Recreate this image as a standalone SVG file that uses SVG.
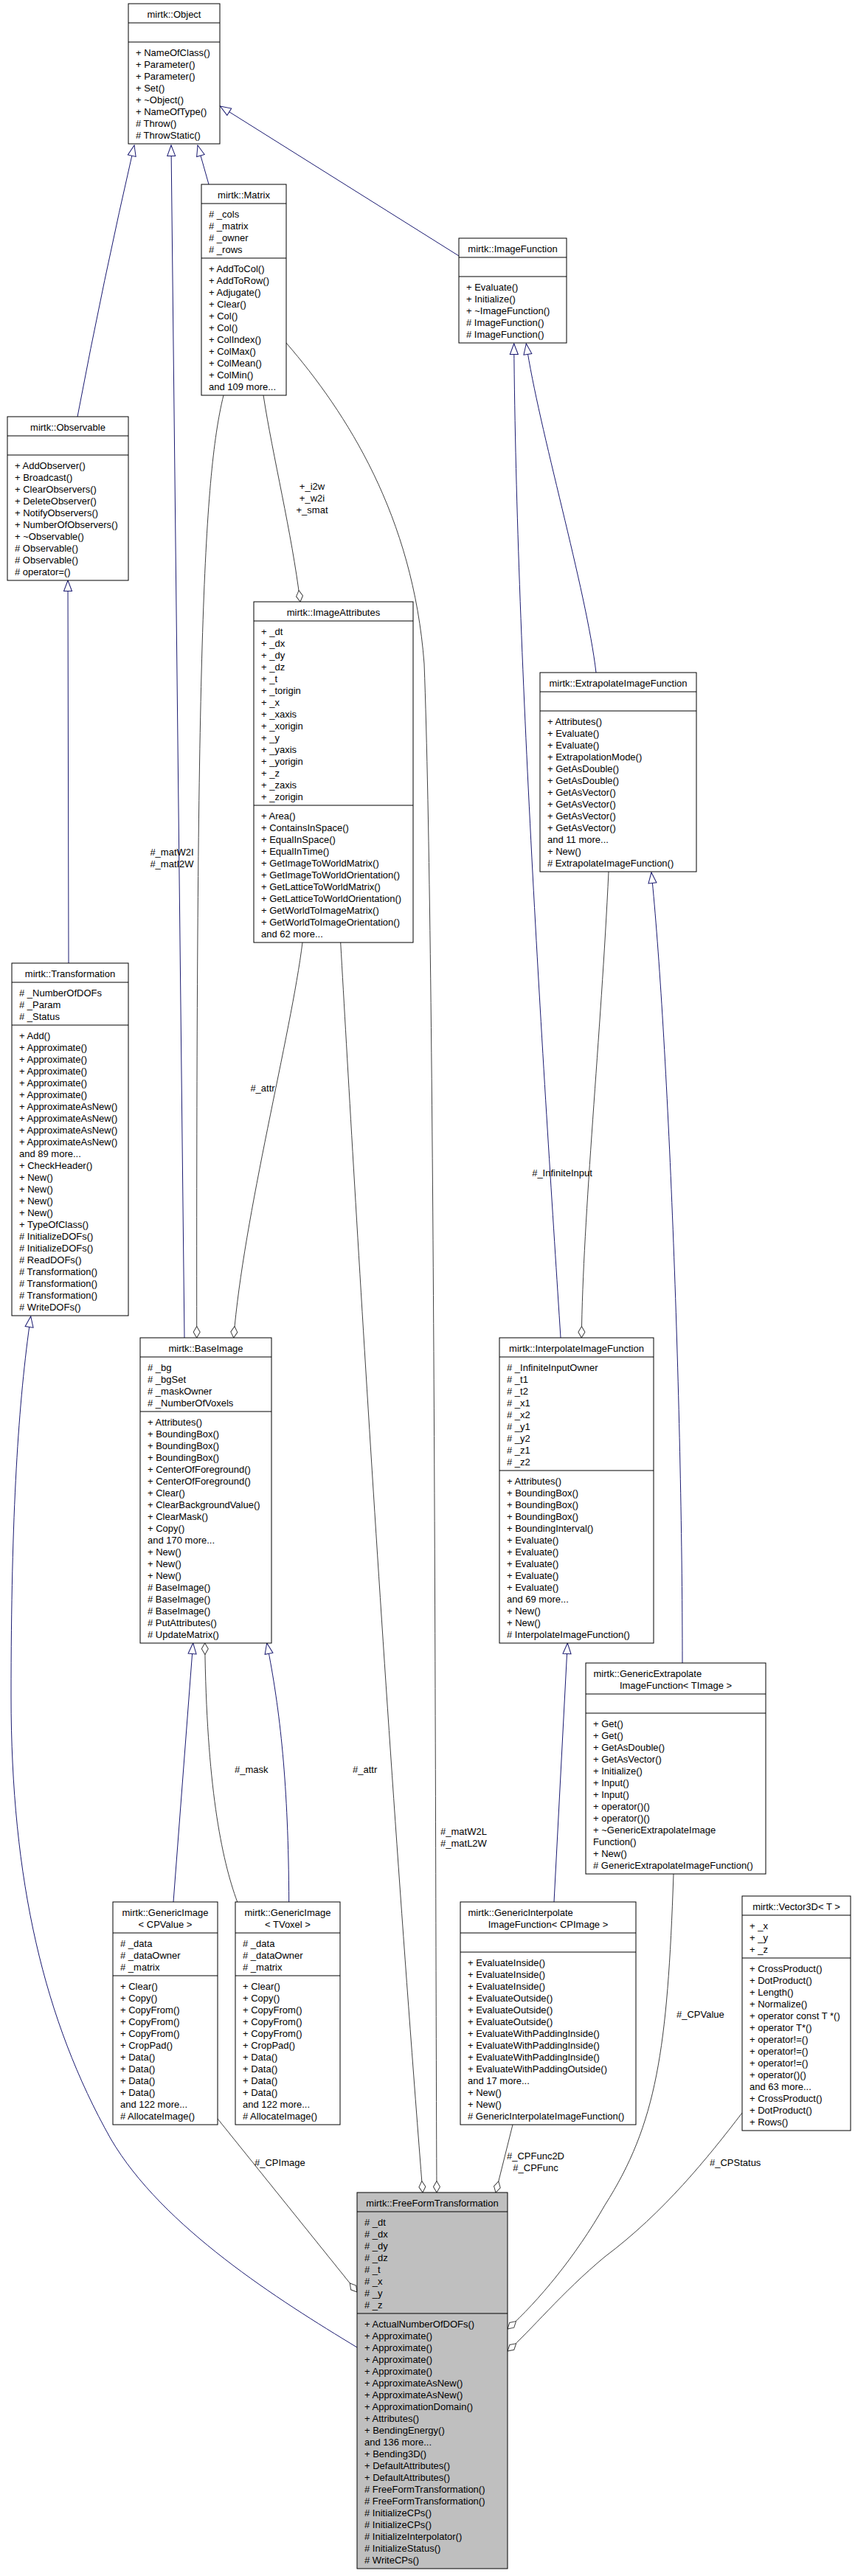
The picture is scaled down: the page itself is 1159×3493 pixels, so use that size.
<svg xmlns="http://www.w3.org/2000/svg" width="1159" height="3493" viewBox="0 0 1159 3493">
<style>
text{font-family:"Liberation Sans",Arial,Helvetica,sans-serif;font-size:13px;fill:#000}
.c{text-anchor:middle}
.box{fill:#fff;stroke:#000;stroke-width:1}
.cur{fill:#bfbfbf;stroke:#000;stroke-width:1}
.sep{stroke:#000;stroke-width:1}
.inh{fill:none;stroke:#191970;stroke-width:1;marker-end:url(#tri)}
.use{fill:none;stroke:#404040;stroke-width:1;marker-end:url(#dia)}
</style>
<defs>
<marker id="tri" markerWidth="17" markerHeight="13" refX="15.5" refY="6.5" orient="auto" markerUnits="userSpaceOnUse"><path d="M1,1 L15.5,6.5 L1,12 Z" fill="#fff" stroke="#191970"/></marker>
<marker id="dia" markerWidth="18" markerHeight="11" refX="16.5" refY="5.5" orient="auto" markerUnits="userSpaceOnUse"><path d="M1,5.5 L8.75,1 L16.5,5.5 L8.75,10 Z" fill="#fff" stroke="#404040"/></marker>
</defs>
<rect width="1159" height="3493" fill="#fff"/>
<g id="connectors">
<path class="inh" d="M105,565 Q140,380 182,197"/>
<path class="inh" d="M250,1814 L232,197"/>
<path class="inh" d="M283,250 L268,197"/>
<path class="inh" d="M622,347 L298.5,144"/>
<path class="inh" d="M93,1306 L92,787"/>
<path class="inh" d="M484,3183 C380,3120 220,3020 150,2900 C60,2740 15,2550 15,2300 C15,2050 25,1900 41.7,1785"/>
<path class="inh" d="M235,2579 L261.7,2228"/>
<path class="inh" d="M391.7,2579 C391,2420 380,2320 361.7,2228"/>
<path class="inh" d="M760,1814 C740,1500 700,900 696.7,466"/>
<path class="inh" d="M808,912 C795,800 730,580 713.3,466"/>
<path class="inh" d="M925,2255 C925,1900 905,1400 883,1183"/>
<path class="inh" d="M751,2579 L769.3,2228"/>
<path class="use" d="M357,536 C370,620 395,720 407,816"/>
<path class="use" d="M303,536 C275,650 266,900 266.7,1814"/>
<path class="use" d="M410,1278 C395,1400 330,1650 316.7,1814"/>
<path class="use" d="M321.7,2579 C300,2520 280,2420 277.7,2228"/>
<path class="use" d="M825,1182 C815,1400 790,1650 788.3,1814"/>
<path class="use" d="M388,465 C470,560 560,700 575,900 C590,1300 590,2500 592,2973"/>
<path class="use" d="M461.7,1278 C480,1600 520,2300 573,2973"/>
<path class="use" d="M295,2873 L484,3108"/>
<path class="use" d="M695,2881 L672,2973"/>
<path class="use" d="M913,2541 C905,2780 890,2880 820,2990 C780,3060 730,3120 688,3158"/>
<path class="use" d="M1006,2865 C960,2925 900,3000 820,3060 C760,3110 720,3160 688,3188"/>
<text class="c" x="423" y="664">+_i2w</text>
<text class="c" x="423" y="680">+_w2i</text>
<text class="c" x="423" y="696">+_smat</text>
<text class="c" x="233" y="1160">#_matW2I</text>
<text class="c" x="233" y="1176">#_matI2W</text>
<text class="c" x="356" y="1480">#_attr</text>
<text class="c" x="762" y="1595">#_InfiniteInput</text>
<text x="318" y="2404">#_mask</text>
<text x="478" y="2404">#_attr</text>
<text x="597" y="2488">#_matW2L</text>
<text x="597" y="2504">#_matL2W</text>
<text x="345" y="2937">#_CPImage</text>
<text class="c" x="726" y="2928">#_CPFunc2D</text>
<text class="c" x="726" y="2944">#_CPFunc</text>
<text x="917" y="2736">#_CPValue</text>
<text x="962" y="2937">#_CPStatus</text>
</g>
<g id="Object">
<rect class="box" x="174" y="5" width="124" height="190"/>
<line class="sep" x1="174" y1="31" x2="298" y2="31"/><line class="sep" x1="174" y1="57" x2="298" y2="57"/>
<text class="c" x="236" y="24">mirtk::Object</text>
<text x="184" y="76">+ NameOfClass()</text><text x="184" y="92">+ Parameter()</text><text x="184" y="108">+ Parameter()</text><text x="184" y="124">+ Set()</text><text x="184" y="140">+ ~Object()</text><text x="184" y="156">+ NameOfType()</text><text x="184" y="172"># Throw()</text><text x="184" y="188"># ThrowStatic()</text>
</g>
<g id="Matrix">
<rect class="box" x="273" y="250" width="115" height="286"/>
<line class="sep" x1="273" y1="276" x2="388" y2="276"/><line class="sep" x1="273" y1="350" x2="388" y2="350"/>
<text class="c" x="330.5" y="269">mirtk::Matrix</text>
<text x="283" y="295"># _cols</text><text x="283" y="311"># _matrix</text><text x="283" y="327"># _owner</text><text x="283" y="343"># _rows</text>
<text x="283" y="369">+ AddToCol()</text><text x="283" y="385">+ AddToRow()</text><text x="283" y="401">+ Adjugate()</text><text x="283" y="417">+ Clear()</text><text x="283" y="433">+ Col()</text><text x="283" y="449">+ Col()</text><text x="283" y="465">+ ColIndex()</text><text x="283" y="481">+ ColMax()</text><text x="283" y="497">+ ColMean()</text><text x="283" y="513">+ ColMin()</text><text x="283" y="529">and 109 more...</text>
</g>
<g id="ImageFunction">
<rect class="box" x="622" y="323" width="146" height="142"/>
<line class="sep" x1="622" y1="349" x2="768" y2="349"/><line class="sep" x1="622" y1="375" x2="768" y2="375"/>
<text class="c" x="695" y="342">mirtk::ImageFunction</text>
<text x="632" y="394">+ Evaluate()</text><text x="632" y="410">+ Initialize()</text><text x="632" y="426">+ ~ImageFunction()</text><text x="632" y="442"># ImageFunction()</text><text x="632" y="458"># ImageFunction()</text>
</g>
<g id="Observable">
<rect class="box" x="10" y="565" width="164" height="222"/>
<line class="sep" x1="10" y1="591" x2="174" y2="591"/><line class="sep" x1="10" y1="617" x2="174" y2="617"/>
<text class="c" x="92" y="584">mirtk::Observable</text>
<text x="20" y="636">+ AddObserver()</text><text x="20" y="652">+ Broadcast()</text><text x="20" y="668">+ ClearObservers()</text><text x="20" y="684">+ DeleteObserver()</text><text x="20" y="700">+ NotifyObservers()</text><text x="20" y="716">+ NumberOfObservers()</text><text x="20" y="732">+ ~Observable()</text><text x="20" y="748"># Observable()</text><text x="20" y="764"># Observable()</text><text x="20" y="780"># operator=()</text>
</g>
<g id="ImageAttributes">
<rect class="box" x="344" y="816" width="216" height="462"/>
<line class="sep" x1="344" y1="842" x2="560" y2="842"/><line class="sep" x1="344" y1="1092" x2="560" y2="1092"/>
<text class="c" x="452" y="835">mirtk::ImageAttributes</text>
<text x="354" y="861">+ _dt</text><text x="354" y="877">+ _dx</text><text x="354" y="893">+ _dy</text><text x="354" y="909">+ _dz</text><text x="354" y="925">+ _t</text><text x="354" y="941">+ _torigin</text><text x="354" y="957">+ _x</text><text x="354" y="973">+ _xaxis</text><text x="354" y="989">+ _xorigin</text><text x="354" y="1005">+ _y</text><text x="354" y="1021">+ _yaxis</text><text x="354" y="1037">+ _yorigin</text><text x="354" y="1053">+ _z</text><text x="354" y="1069">+ _zaxis</text><text x="354" y="1085">+ _zorigin</text>
<text x="354" y="1111">+ Area()</text><text x="354" y="1127">+ ContainsInSpace()</text><text x="354" y="1143">+ EqualInSpace()</text><text x="354" y="1159">+ EqualInTime()</text><text x="354" y="1175">+ GetImageToWorldMatrix()</text><text x="354" y="1191">+ GetImageToWorldOrientation()</text><text x="354" y="1207">+ GetLatticeToWorldMatrix()</text><text x="354" y="1223">+ GetLatticeToWorldOrientation()</text><text x="354" y="1239">+ GetWorldToImageMatrix()</text><text x="354" y="1255">+ GetWorldToImageOrientation()</text><text x="354" y="1271">and 62 more...</text>
</g>
<g id="ExtrapolateImageFunction">
<rect class="box" x="732" y="912" width="212" height="270"/>
<line class="sep" x1="732" y1="938" x2="944" y2="938"/><line class="sep" x1="732" y1="964" x2="944" y2="964"/>
<text class="c" x="838" y="931">mirtk::ExtrapolateImageFunction</text>
<text x="742" y="983">+ Attributes()</text><text x="742" y="999">+ Evaluate()</text><text x="742" y="1015">+ Evaluate()</text><text x="742" y="1031">+ ExtrapolationMode()</text><text x="742" y="1047">+ GetAsDouble()</text><text x="742" y="1063">+ GetAsDouble()</text><text x="742" y="1079">+ GetAsVector()</text><text x="742" y="1095">+ GetAsVector()</text><text x="742" y="1111">+ GetAsVector()</text><text x="742" y="1127">+ GetAsVector()</text><text x="742" y="1143">and 11 more...</text><text x="742" y="1159">+ New()</text><text x="742" y="1175"># ExtrapolateImageFunction()</text>
</g>
<g id="Transformation">
<rect class="box" x="16" y="1306" width="158" height="478"/>
<line class="sep" x1="16" y1="1332" x2="174" y2="1332"/><line class="sep" x1="16" y1="1390" x2="174" y2="1390"/>
<text class="c" x="95" y="1325">mirtk::Transformation</text>
<text x="26" y="1351"># _NumberOfDOFs</text><text x="26" y="1367"># _Param</text><text x="26" y="1383"># _Status</text>
<text x="26" y="1409">+ Add()</text><text x="26" y="1425">+ Approximate()</text><text x="26" y="1441">+ Approximate()</text><text x="26" y="1457">+ Approximate()</text><text x="26" y="1473">+ Approximate()</text><text x="26" y="1489">+ Approximate()</text><text x="26" y="1505">+ ApproximateAsNew()</text><text x="26" y="1521">+ ApproximateAsNew()</text><text x="26" y="1537">+ ApproximateAsNew()</text><text x="26" y="1553">+ ApproximateAsNew()</text><text x="26" y="1569">and 89 more...</text><text x="26" y="1585">+ CheckHeader()</text><text x="26" y="1601">+ New()</text><text x="26" y="1617">+ New()</text><text x="26" y="1633">+ New()</text><text x="26" y="1649">+ New()</text><text x="26" y="1665">+ TypeOfClass()</text><text x="26" y="1681"># InitializeDOFs()</text><text x="26" y="1697"># InitializeDOFs()</text><text x="26" y="1713"># ReadDOFs()</text><text x="26" y="1729"># Transformation()</text><text x="26" y="1745"># Transformation()</text><text x="26" y="1761"># Transformation()</text><text x="26" y="1777"># WriteDOFs()</text>
</g>
<g id="BaseImage">
<rect class="box" x="190" y="1814" width="178" height="414"/>
<line class="sep" x1="190" y1="1840" x2="368" y2="1840"/><line class="sep" x1="190" y1="1914" x2="368" y2="1914"/>
<text class="c" x="279" y="1833">mirtk::BaseImage</text>
<text x="200" y="1859"># _bg</text><text x="200" y="1875"># _bgSet</text><text x="200" y="1891"># _maskOwner</text><text x="200" y="1907"># _NumberOfVoxels</text>
<text x="200" y="1933">+ Attributes()</text><text x="200" y="1949">+ BoundingBox()</text><text x="200" y="1965">+ BoundingBox()</text><text x="200" y="1981">+ BoundingBox()</text><text x="200" y="1997">+ CenterOfForeground()</text><text x="200" y="2013">+ CenterOfForeground()</text><text x="200" y="2029">+ Clear()</text><text x="200" y="2045">+ ClearBackgroundValue()</text><text x="200" y="2061">+ ClearMask()</text><text x="200" y="2077">+ Copy()</text><text x="200" y="2093">and 170 more...</text><text x="200" y="2109">+ New()</text><text x="200" y="2125">+ New()</text><text x="200" y="2141">+ New()</text><text x="200" y="2157"># BaseImage()</text><text x="200" y="2173"># BaseImage()</text><text x="200" y="2189"># BaseImage()</text><text x="200" y="2205"># PutAttributes()</text><text x="200" y="2221"># UpdateMatrix()</text>
</g>
<g id="InterpolateImageFunction">
<rect class="box" x="677" y="1814" width="209" height="414"/>
<line class="sep" x1="677" y1="1840" x2="886" y2="1840"/><line class="sep" x1="677" y1="1994" x2="886" y2="1994"/>
<text class="c" x="781.5" y="1833">mirtk::InterpolateImageFunction</text>
<text x="687" y="1859"># _InfiniteInputOwner</text><text x="687" y="1875"># _t1</text><text x="687" y="1891"># _t2</text><text x="687" y="1907"># _x1</text><text x="687" y="1923"># _x2</text><text x="687" y="1939"># _y1</text><text x="687" y="1955"># _y2</text><text x="687" y="1971"># _z1</text><text x="687" y="1987"># _z2</text>
<text x="687" y="2013">+ Attributes()</text><text x="687" y="2029">+ BoundingBox()</text><text x="687" y="2045">+ BoundingBox()</text><text x="687" y="2061">+ BoundingBox()</text><text x="687" y="2077">+ BoundingInterval()</text><text x="687" y="2093">+ Evaluate()</text><text x="687" y="2109">+ Evaluate()</text><text x="687" y="2125">+ Evaluate()</text><text x="687" y="2141">+ Evaluate()</text><text x="687" y="2157">+ Evaluate()</text><text x="687" y="2173">and 69 more...</text><text x="687" y="2189">+ New()</text><text x="687" y="2205">+ New()</text><text x="687" y="2221"># InterpolateImageFunction()</text>
</g>
<g id="GenericExtrapolateImageFunction">
<rect class="box" x="794" y="2255" width="244" height="286"/>
<line class="sep" x1="794" y1="2297" x2="1038" y2="2297"/><line class="sep" x1="794" y1="2323" x2="1038" y2="2323"/>
<text x="804.5" y="2274">mirtk::GenericExtrapolate</text>
<text class="c" x="916" y="2290">ImageFunction&lt; TImage &gt;</text>
<text x="804" y="2342">+ Get()</text><text x="804" y="2358">+ Get()</text><text x="804" y="2374">+ GetAsDouble()</text><text x="804" y="2390">+ GetAsVector()</text><text x="804" y="2406">+ Initialize()</text><text x="804" y="2422">+ Input()</text><text x="804" y="2438">+ Input()</text><text x="804" y="2454">+ operator()()</text><text x="804" y="2470">+ operator()()</text><text x="804" y="2486">+ ~GenericExtrapolateImage</text><text x="804" y="2502">Function()</text><text x="804" y="2518">+ New()</text><text x="804" y="2534"># GenericExtrapolateImageFunction()</text>
</g>
<g id="GenericImageCPValue">
<rect class="box" x="153" y="2579" width="142" height="302"/>
<line class="sep" x1="153" y1="2621" x2="295" y2="2621"/><line class="sep" x1="153" y1="2679" x2="295" y2="2679"/>
<text class="c" x="224" y="2598">mirtk::GenericImage</text>
<text class="c" x="224" y="2614">&lt; CPValue &gt;</text>
<text x="163" y="2640"># _data</text><text x="163" y="2656"># _dataOwner</text><text x="163" y="2672"># _matrix</text>
<text x="163" y="2698">+ Clear()</text><text x="163" y="2714">+ Copy()</text><text x="163" y="2730">+ CopyFrom()</text><text x="163" y="2746">+ CopyFrom()</text><text x="163" y="2762">+ CopyFrom()</text><text x="163" y="2778">+ CropPad()</text><text x="163" y="2794">+ Data()</text><text x="163" y="2810">+ Data()</text><text x="163" y="2826">+ Data()</text><text x="163" y="2842">+ Data()</text><text x="163" y="2858">and 122 more...</text><text x="163" y="2874"># AllocateImage()</text>
</g>
<g id="GenericImageTVoxel">
<rect class="box" x="319" y="2579" width="142" height="302"/>
<line class="sep" x1="319" y1="2621" x2="461" y2="2621"/><line class="sep" x1="319" y1="2679" x2="461" y2="2679"/>
<text class="c" x="390" y="2598">mirtk::GenericImage</text>
<text class="c" x="390" y="2614">&lt; TVoxel &gt;</text>
<text x="329" y="2640"># _data</text><text x="329" y="2656"># _dataOwner</text><text x="329" y="2672"># _matrix</text>
<text x="329" y="2698">+ Clear()</text><text x="329" y="2714">+ Copy()</text><text x="329" y="2730">+ CopyFrom()</text><text x="329" y="2746">+ CopyFrom()</text><text x="329" y="2762">+ CopyFrom()</text><text x="329" y="2778">+ CropPad()</text><text x="329" y="2794">+ Data()</text><text x="329" y="2810">+ Data()</text><text x="329" y="2826">+ Data()</text><text x="329" y="2842">+ Data()</text><text x="329" y="2858">and 122 more...</text><text x="329" y="2874"># AllocateImage()</text>
</g>
<g id="GenericInterpolateImageFunction">
<rect class="box" x="624" y="2579" width="238" height="302"/>
<line class="sep" x1="624" y1="2621" x2="862" y2="2621"/><line class="sep" x1="624" y1="2647" x2="862" y2="2647"/>
<text x="634.5" y="2598">mirtk::GenericInterpolate</text>
<text class="c" x="743" y="2614">ImageFunction&lt; CPImage &gt;</text>
<text x="634" y="2666">+ EvaluateInside()</text><text x="634" y="2682">+ EvaluateInside()</text><text x="634" y="2698">+ EvaluateInside()</text><text x="634" y="2714">+ EvaluateOutside()</text><text x="634" y="2730">+ EvaluateOutside()</text><text x="634" y="2746">+ EvaluateOutside()</text><text x="634" y="2762">+ EvaluateWithPaddingInside()</text><text x="634" y="2778">+ EvaluateWithPaddingInside()</text><text x="634" y="2794">+ EvaluateWithPaddingInside()</text><text x="634" y="2810">+ EvaluateWithPaddingOutside()</text><text x="634" y="2826">and 17 more...</text><text x="634" y="2842">+ New()</text><text x="634" y="2858">+ New()</text><text x="634" y="2874"># GenericInterpolateImageFunction()</text>
</g>
<g id="Vector3D">
<rect class="box" x="1006" y="2571" width="147" height="318"/>
<line class="sep" x1="1006" y1="2597" x2="1153" y2="2597"/><line class="sep" x1="1006" y1="2655" x2="1153" y2="2655"/>
<text class="c" x="1079.5" y="2590">mirtk::Vector3D&lt; T &gt;</text>
<text x="1016" y="2616">+ _x</text><text x="1016" y="2632">+ _y</text><text x="1016" y="2648">+ _z</text>
<text x="1016" y="2674">+ CrossProduct()</text><text x="1016" y="2690">+ DotProduct()</text><text x="1016" y="2706">+ Length()</text><text x="1016" y="2722">+ Normalize()</text><text x="1016" y="2738">+ operator const T *()</text><text x="1016" y="2754">+ operator T*()</text><text x="1016" y="2770">+ operator!=()</text><text x="1016" y="2786">+ operator!=()</text><text x="1016" y="2802">+ operator!=()</text><text x="1016" y="2818">+ operator()()</text><text x="1016" y="2834">and 63 more...</text><text x="1016" y="2850">+ CrossProduct()</text><text x="1016" y="2866">+ DotProduct()</text><text x="1016" y="2882">+ Rows()</text>
</g>
<g id="FreeFormTransformation">
<rect class="cur" x="484" y="2973" width="204" height="510"/>
<line class="sep" x1="484" y1="2999" x2="688" y2="2999"/><line class="sep" x1="484" y1="3137" x2="688" y2="3137"/>
<text class="c" x="586" y="2992">mirtk::FreeFormTransformation</text>
<text x="494" y="3018"># _dt</text><text x="494" y="3034"># _dx</text><text x="494" y="3050"># _dy</text><text x="494" y="3066"># _dz</text><text x="494" y="3082"># _t</text><text x="494" y="3098"># _x</text><text x="494" y="3114"># _y</text><text x="494" y="3130"># _z</text>
<text x="494" y="3156">+ ActualNumberOfDOFs()</text><text x="494" y="3172">+ Approximate()</text><text x="494" y="3188">+ Approximate()</text><text x="494" y="3204">+ Approximate()</text><text x="494" y="3220">+ Approximate()</text><text x="494" y="3236">+ ApproximateAsNew()</text><text x="494" y="3252">+ ApproximateAsNew()</text><text x="494" y="3268">+ ApproximationDomain()</text><text x="494" y="3284">+ Attributes()</text><text x="494" y="3300">+ BendingEnergy()</text><text x="494" y="3316">and 136 more...</text><text x="494" y="3332">+ Bending3D()</text><text x="494" y="3348">+ DefaultAttributes()</text><text x="494" y="3364">+ DefaultAttributes()</text><text x="494" y="3380"># FreeFormTransformation()</text><text x="494" y="3396"># FreeFormTransformation()</text><text x="494" y="3412"># InitializeCPs()</text><text x="494" y="3428"># InitializeCPs()</text><text x="494" y="3444"># InitializeInterpolator()</text><text x="494" y="3460"># InitializeStatus()</text><text x="494" y="3476"># WriteCPs()</text>
</g>
</svg>
